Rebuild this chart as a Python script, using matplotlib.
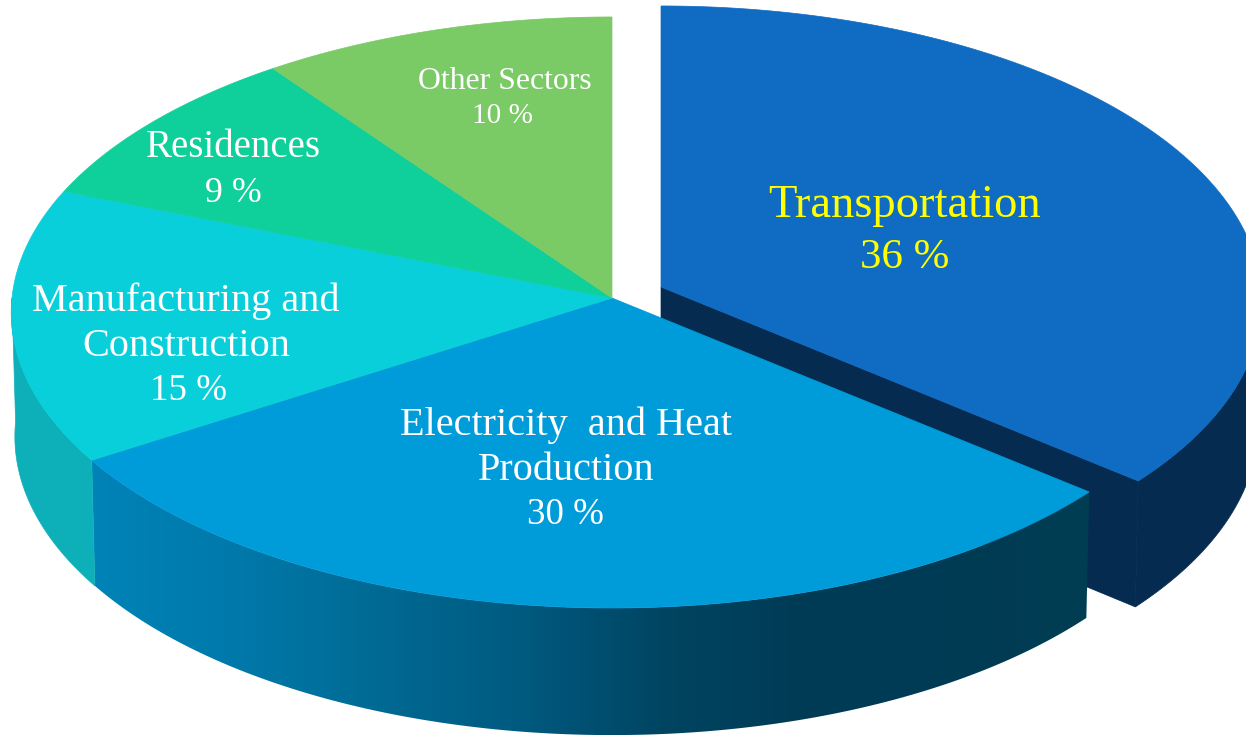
import numpy as np
import matplotlib
matplotlib.use('Agg')
import matplotlib.pyplot as plt
from matplotlib.colors import LinearSegmentedColormap
from matplotlib.patches import Polygon

# clockwise from 12 o'clock
sectors = ['Transportation', 'Electricity  and Heat\nProduction', 'Manufacturing and\nConstruction',
           'Residences', 'Other Sectors']
values = [36, 30, 15, 9, 10]
top_colors = ['#0F6CC2', '#009BD9', '#09CFDA', '#0FD09A', '#7ACA66']
wall_colors = ['#062B50', None, '#0DB0B8', None, None]
grad_stops = ['#0083B8', '#0079AA', '#006A94', '#005A80', '#004562', '#003B55', '#003B55', '#013D52']

# layout in pixels of the 1246x735 picture
cx, cy = 612, 298
A, B, k = 600, 294.8, 0.049
base_sx, base_sy, depth = 0.994, 1.01, 124
explode = (49, -11)

label_pos = [(905, 206), (566, 425), (186, 301), (233, 147), (505, 81)]
pct_x = [905, 565, 189, 233, 503]
label_size = [33.6, 29, 29, 28, 22.9]
label_pitch = [52, 45, 45, 46, 35]
label_color = ['#FFFF00', 'white', 'white', 'white', 'white']


def top_xy(theta, r=1.0):
    u = r * np.cos(theta)
    v = r * np.sin(theta)
    w = 1 + k * v
    return cx + A * u / w, cy - B * v / w


def base_xy(theta, r=1.0):
    x, y = top_xy(theta, r)
    return cx + (x - cx) * base_sx, cy + (y - cy) * base_sy + depth


fig = plt.figure(figsize=(12.46, 7.35), dpi=100)
ax = fig.add_axes([0, 0, 1, 1])
ax.set_axis_off()

fractions = np.array(values) / np.sum(values)
edges = np.pi / 2 - 2 * np.pi * np.concatenate([[0], np.cumsum(fractions)])
cmap = LinearSegmentedColormap.from_list('wall', grad_stops)

# only the front half (sin < 0) of the rim is seen, walls stop at the silhouette
for i in [0, 1, 2]:
    t0 = min(edges[i], 0.0)
    t1 = max(edges[i + 1], -np.pi)
    t = np.linspace(t0, t1, 300)
    dx, dy = explode if i == 0 else (0, 0)
    tx, ty = top_xy(t)
    bx, by = base_xy(t)
    wall = np.column_stack([np.r_[tx, bx[::-1]] + dx, np.r_[ty, by[::-1]] + dy])
    if i == 1:
        poly = Polygon(wall, closed=True, facecolor='none', edgecolor='none')
        ax.add_patch(poly)
        grad = np.linspace(0, 1, 256).reshape(1, -1)
        im = ax.imshow(grad, cmap=cmap, aspect='auto', extent=(wall[:, 0].min(), wall[:, 0].max(), 735, 0), zorder=2)
        im.set_clip_path(poly)
    else:
        ax.add_patch(Polygon(wall, closed=True, facecolor=wall_colors[i], edgecolor=wall_colors[i], lw=0.5,
                             zorder=1 if i == 0 else 2))
    if i == 0:
        # cut face of the pulled out slice
        ex, ey = top_xy(edges[1])
        fx, fy = base_xy(edges[1])
        gx, gy = base_xy(0, 0)
        cut = [(cx + dx, cy + dy), (ex + dx, ey + dy), (fx + dx, fy + dy), (gx + dx, gy + dy)]
        ax.add_patch(Polygon(cut, closed=True, facecolor=wall_colors[0], edgecolor=wall_colors[0], lw=0.5, zorder=1))

for i in range(len(values)):
    t = np.linspace(edges[i], edges[i + 1], 300)
    dx, dy = explode if i == 0 else (0, 0)
    tx, ty = top_xy(t)
    pts = np.column_stack([np.r_[cx, tx] + dx, np.r_[cy, ty] + dy])
    ax.add_patch(Polygon(pts, closed=True, facecolor=top_colors[i], edgecolor=top_colors[i], lw=0.5,
                         zorder=1.5 if i == 0 else 3))

for i, name in enumerate(sectors):
    lines = name.split('\n')
    x, y = label_pos[i]
    for j, line in enumerate(lines):
        ax.text(x, y + j * label_pitch[i], line, color=label_color[i], fontsize=label_size[i],
                family='Liberation Serif', ha='center', va='center', zorder=5)
    ax.text(pct_x[i], y + len(lines) * label_pitch[i], '%d %%' % values[i], color=label_color[i],
            fontsize=label_size[i] * 0.92, family='Liberation Serif', ha='center', va='center', zorder=5)

ax.set_xlim(0, 1246)
ax.set_ylim(735, 0)
fig.savefig('out.png', dpi=100, facecolor='white')
